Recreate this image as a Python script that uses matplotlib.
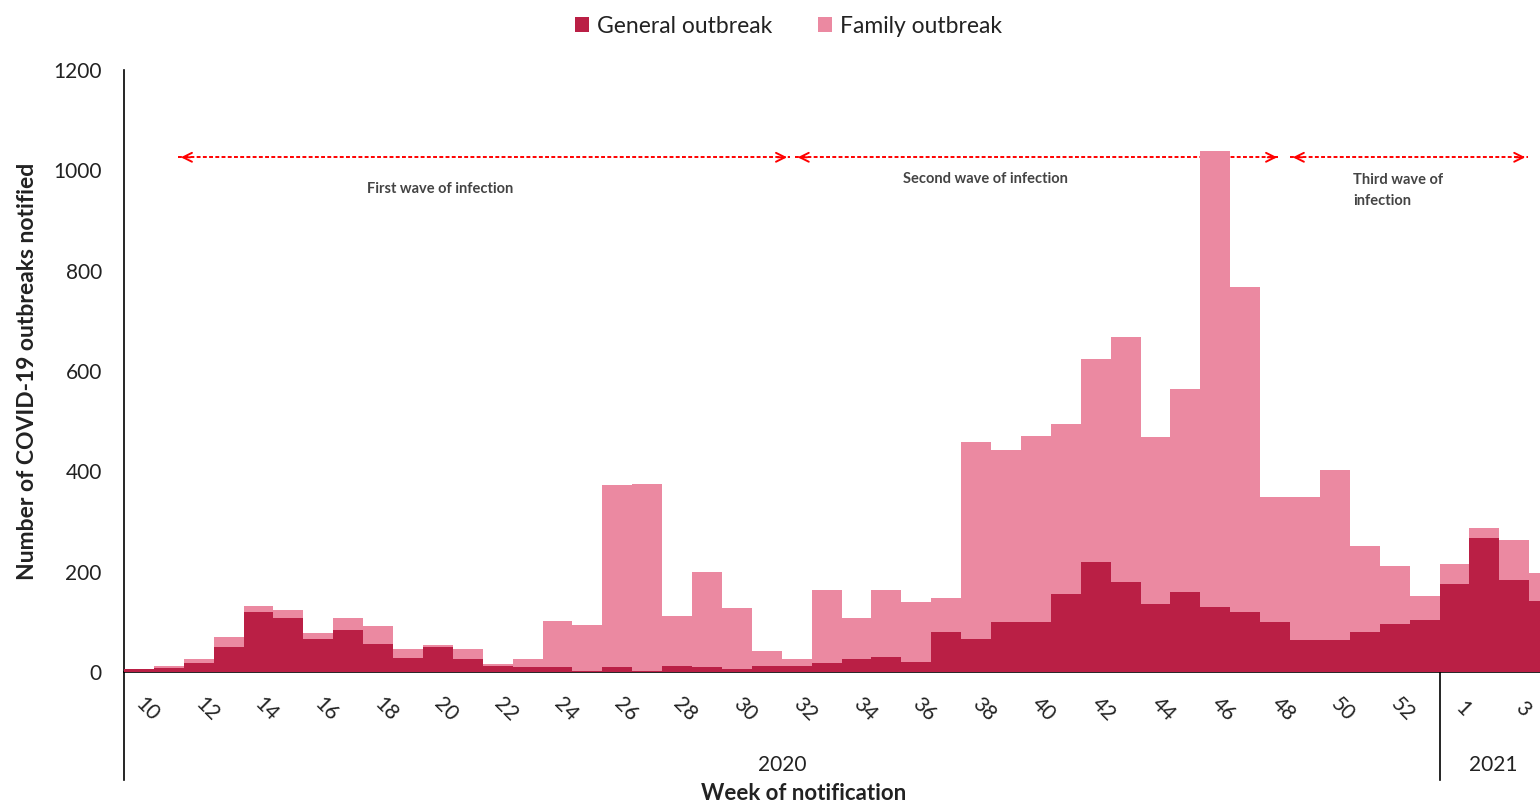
import matplotlib
matplotlib.use("Agg")
import matplotlib.pyplot as plt
import matplotlib.transforms as mtransforms
import numpy as np

plt.rcParams['font.family'] = ['Lato', 'DejaVu Sans']

# weeks of notification: 2020 weeks 10-53, then 2021 weeks 1-4
weeks = [str(w) for w in range(10, 54)] + ['1', '2', '3', '4']
general = [5, 7, 17, 49, 120, 108, 65, 83, 56, 28, 50, 25, 11, 9, 9, 2,
           9, 2, 12, 9, 5, 12, 12, 17, 25, 29, 20, 80, 65, 100, 100, 156,
           220, 180, 136, 160, 129, 120, 100, 64, 64, 80, 96, 104,
           176, 268, 184, 141]
family = [1, 5, 8, 20, 12, 16, 12, 25, 36, 17, 3, 20, 4, 16, 92, 91,
          364, 373, 100, 191, 123, 29, 13, 147, 83, 135, 120, 68, 394, 343, 371, 339,
          404, 488, 332, 404, 909, 647, 249, 285, 339, 172, 116, 47,
          40, 20, 80, 56]
years = ['2020', '2021']
n_2020 = 44

# wave annotations: (start, end) in bar index units
waves = [(1.31, 21.77), (21.94, 38.16), (38.5, 46.46)]
wave_labels = ['First wave of infection', 'Second wave of infection', 'Third wave of\ninfection']

dark = '#BA1F45'
pink = '#EB89A1'

fig = plt.figure(figsize=(15.4, 8.05), dpi=100)
ax = fig.add_axes([124 / 1540, 133 / 805, 1 - 124 / 1540, 602 / 805])

x = np.arange(len(weeks))
ax.bar(x, general, width=1.0, color=dark, label='General outbreak', zorder=3, linewidth=0)
ax.bar(x, family, width=1.0, bottom=general, color=pink, label='Family outbreak', zorder=3, linewidth=0)

ax.set_xlim(-0.5, 46.86)
ax.set_ylim(0, 1200)
ax.set_yticks(range(0, 1201, 200))
ax.tick_params(axis='y', length=0, pad=16, labelsize=15, colors='#222222')

ax.set_xticks(x[::2])
ax.set_xticklabels(weeks[::2], rotation=-45, ha='center', va='center')
ax.tick_params(axis='x', length=0, pad=27, labelsize=15, colors='#222222')
offset = mtransforms.ScaledTranslation(8 / 100, 0, fig.dpi_scale_trans)
for lab in ax.get_xticklabels():
    lab.set_transform(lab.get_transform() + offset)

for s in ['top', 'right']:
    ax.spines[s].set_visible(False)
ax.spines['left'].set_color('black')
ax.spines['bottom'].set_color('black')
ax.spines['left'].set_linewidth(1.2)
ax.spines['bottom'].set_linewidth(1.2)

# year group separators below the axis
trans = ax.get_xaxis_transform()
for xs in [-0.5, n_2020 - 0.5]:
    ax.plot([xs, xs], [0, -0.18], transform=trans, color='black', lw=1.2, clip_on=False)
ax.text((n_2020 - 1) / 2, -0.155, years[0], transform=trans, ha='center', va='center',
        fontsize=15, color='#222222')
ax.text(45.3, -0.155, years[1], transform=trans, ha='center', va='center',
        fontsize=15, color='#222222')

ax.text(0.48, -0.201, 'Week of notification', transform=ax.transAxes, ha='center', va='center',
        fontsize=16, fontweight='bold', color='#222222')
ax.set_ylabel('Number of COVID-19 outbreaks notified', fontsize=16.5, fontweight='bold',
              color='#222222', labelpad=11)

# wave arrows
arrow_y = 1026
for x0, x1 in waves:
    ax.plot([x0, x1], [arrow_y, arrow_y], color='red', lw=1.4, ls=(0, (2, 1.2)), zorder=1)
    for tip, tail in [(x0, x0 + 0.5), (x1, x1 - 0.5)]:
        ax.annotate('', xy=(tip, arrow_y), xytext=(tail, arrow_y),
                    arrowprops=dict(arrowstyle='->', color='red', lw=1.4, mutation_scale=16),
                    zorder=1)

ax.text(10.07, 962, wave_labels[0], ha='center', va='center', fontsize=10.5,
        fontweight='bold', color='#444444')
ax.text(28.3, 982, wave_labels[1], ha='center', va='center', fontsize=10.5,
        fontweight='bold', color='#444444')
ax.text(40.6, 960, wave_labels[2], ha='left', va='center', fontsize=10.5,
        fontweight='bold', color='#444444', linespacing=1.6)

fig.legend(loc='upper center', bbox_to_anchor=(0.512, 1.006), ncol=2, frameon=False,
           fontsize=16.5, handlelength=0.6, handleheight=0.6, handletextpad=0.35,
           columnspacing=2.0, labelcolor='#222222')

fig.savefig('out.png', dpi=100)
